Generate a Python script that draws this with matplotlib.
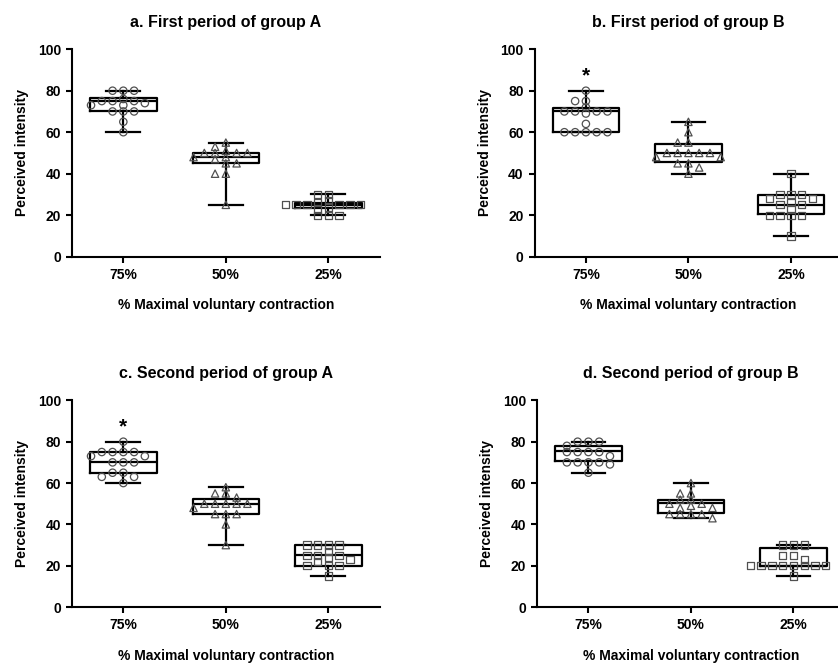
import numpy as np
import matplotlib
matplotlib.use('Agg')
from matplotlib import pyplot as plt

plt.rcParams['font.family'] = ['Liberation Sans', 'DejaVu Sans']
plt.rcParams['font.weight'] = 'bold'

categories = ['75%', '50%', '25%']
titles = ['a. First period of group A', 'b. First period of group B',
          'c. Second period of group A', 'd. Second period of group B']

# points, one list per box
a_75 = [80, 80, 80, 76, 75, 75, 75, 74, 73, 73, 70, 70, 70, 65, 60]
a_50 = [55, 53, 51, 50, 50, 50, 50, 48, 48, 47, 45, 45, 40, 40, 25]
a_25 = [30, 30, 27, 26, 25, 25, 25, 25, 25, 25, 24, 23, 20, 20, 20]
b_75 = [80, 75, 75, 72, 70, 70, 70, 70, 69, 64, 60, 60, 60, 60, 60]
b_50 = [65, 60, 55, 55, 50, 50, 50, 50, 50, 48, 48, 45, 45, 43, 40]
b_25 = [40, 30, 30, 30, 28, 28, 26, 25, 25, 23, 20, 20, 20, 20, 10]
c_75 = [80, 75, 75, 75, 75, 73, 73, 70, 70, 70, 65, 65, 63, 63, 60]
c_50 = [58, 55, 55, 53, 50, 50, 50, 50, 50, 48, 45, 45, 45, 40, 30]
c_25 = [30, 30, 30, 30, 27, 25, 25, 25, 24, 23, 22, 20, 20, 20, 15]
d_75 = [80, 80, 80, 78, 75, 75, 75, 75, 73, 70, 70, 70, 70, 69, 65]
d_50 = [60, 55, 55, 52, 52, 50, 50, 49, 48, 48, 45, 45, 45, 45, 43]
d_25 = [30, 30, 30, 25, 25, 23, 20, 20, 20, 20, 20, 20, 20, 20, 15]

# box stats as drawn: min, q1, median, q3, max
a_box = [[60, 70, 75, 76.25, 80], [25, 45, 48, 50, 55], [20, 23.5, 25, 26, 30]]
b_box = [[60, 60, 70, 71.5, 80], [40, 45.5, 50, 54.5, 65], [10, 20.5, 25, 29.5, 40]]
c_box = [[60, 65, 70, 75, 80], [30, 45, 50, 52.5, 58], [15, 20, 25, 30, 30]]
d_box = [[65, 70.5, 75.5, 78, 80], [43, 45.5, 50.5, 52, 60], [15, 20, 20, 28.75, 30]]

# significance marks: (panel, category index, y)
stars = [(1, 0, 87), (2, 0, 87)]

markers = ['o', '^', 's']


def swarm(values, step=0.105, xscale=103.0, yscale=2.07, diam=5.5):
    # greedy spread of points so they do not overlap too much
    placed = []
    offs = []
    cands = [0.0]
    for k in range(1, 8):
        cands += [-k * step, k * step]
    for v in values:
        for c in cands:
            ok = True
            for (px, py) in placed:
                d = np.hypot((c - px) * xscale, (v - py) * yscale)
                if d < diam:
                    ok = False
                    break
            if ok:
                break
        placed.append((c, v))
        offs.append(c)
    return np.array(offs)


def draw_panel(ax, title, groups, boxes):
    stats = []
    for b in boxes:
        stats.append({'whislo': b[0], 'q1': b[1], 'med': b[2], 'q3': b[3],
                      'whishi': b[4], 'fliers': []})
    pos = np.arange(1, len(categories) + 1)
    lw = 1.6
    ax.bxp(stats, positions=pos, widths=0.65, capwidths=0.33,
           showfliers=False,
           boxprops=dict(color='black', linewidth=lw),
           medianprops=dict(color='black', linewidth=lw),
           whiskerprops=dict(color='black', linewidth=lw),
           capprops=dict(color='black', linewidth=lw))
    for i, vals in enumerate(groups):
        vals = sorted(vals, reverse=True)
        x = pos[i] + swarm(vals)
        ax.scatter(x, vals, s=28, marker=markers[i], facecolors='none',
                   edgecolors='#505050', linewidths=0.9, zorder=3)
    ax.set_xlim(0.5, 3.5)
    ax.set_ylim(0, 100)
    ax.set_yticks(range(0, 101, 20))
    ax.set_xticks(pos)
    ax.set_xticklabels(categories)
    for s in ['top', 'right']:
        ax.spines[s].set_visible(False)
    for s in ['left', 'bottom']:
        ax.spines[s].set_linewidth(1.5)
    ax.tick_params(width=1.5, length=4, labelsize=10, pad=4)
    ax.set_title(title, fontsize=11.5, fontweight='bold', pad=16)
    ax.set_ylabel('Perceived intensity', fontsize=10, fontweight='bold', labelpad=6)
    ax.set_xlabel('% Maximal voluntary contraction', fontsize=10,
                  fontweight='bold', labelpad=12)


def main():
    fig = plt.figure(figsize=(8.38, 6.65), dpi=100)
    rects = [[0.086, 0.614, 0.367, 0.312],
             [0.638, 0.614, 0.367, 0.312],
             [0.086, 0.087, 0.367, 0.311],
             [0.641, 0.087, 0.367, 0.311]]
    data = [[a_75, a_50, a_25], [b_75, b_50, b_25],
            [c_75, c_50, c_25], [d_75, d_50, d_25]]
    boxes = [a_box, b_box, c_box, d_box]
    axes = []
    for i in range(4):
        ax = fig.add_axes(rects[i])
        draw_panel(ax, titles[i], data[i], boxes[i])
        axes.append(ax)
    for (p, c, y) in stars:
        axes[p].text(c + 1, y, '*', ha='center', va='center', fontsize=15,
                     fontweight='bold')
    fig.savefig('out.png', dpi=100)


if __name__ == "__main__":
    main()
